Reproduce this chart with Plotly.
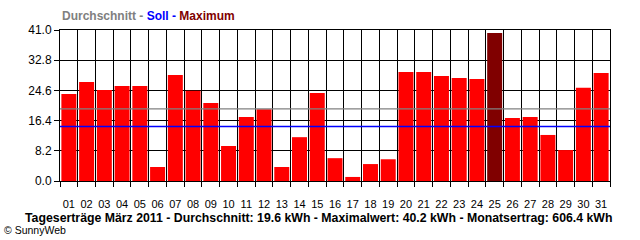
import plotly.graph_objects as go

days = [f"{d:02d}" for d in range(1, 32)]
values = [23.6, 26.9, 24.7, 25.8, 25.8, 3.8, 28.8, 24.5, 21.2, 9.5,
          17.4, 19.5, 3.8, 11.9, 23.9, 6.2, 1.1, 4.6, 5.9, 29.6,
          29.6, 28.5, 28.0, 27.7, 40.2, 17.1, 17.4, 12.5, 8.4, 25.3, 29.3]
average = 19.6
target = 14.8
y_ticks = [0.0, 8.2, 16.4, 24.6, 32.8, 41.0]
y_labels = ["0.0", "8.2", "16.4", "24.6", "32.8", "41.0"]
footer = "Tageserträge März 2011 - Durchschnitt: 19.6 kWh - Maximalwert: 40.2 kWh - Monatsertrag: 606.4 kWh"

vmax = max(values)
colors = ["#800000" if v == vmax else "#ff0000" for v in values]

W, H = 640, 240
L, R, T, B = 60, 30, 30, 59
pw, ph = W - L - R, H - T - B

def px(x):
    return (x - L) / pw

def py(y):
    return (H - B - y) / ph

fig = go.Figure()
fig.add_trace(go.Bar(x=days, y=values, marker=dict(color=colors, line=dict(width=0)),
                     hoverinfo="x+y"))

fig.add_shape(type="line", xref="paper", yref="y", x0=0, x1=1, y0=average, y1=average,
              line=dict(color="#808080", width=1.3), layer="above")
fig.add_shape(type="line", xref="paper", yref="y", x0=0, x1=1, y0=target, y1=target,
              line=dict(color="#0000ff", width=1.3), layer="above")

fig.update_layout(
    width=W, height=H,
    margin=dict(l=L, r=R, t=T, b=B, pad=0),
    paper_bgcolor="white", plot_bgcolor="white",
    bargap=0.155,
    showlegend=False,
    font=dict(family="Liberation Sans, Arial, sans-serif", color="black"),
    xaxis=dict(type="category", tickson="boundaries", ticks="outside", ticklen=5,
               tickangle=0, ticklabelstandoff=13,
               tickcolor="black", tickwidth=1, showgrid=True, gridcolor="black", gridwidth=1,
               showline=True, linecolor="black", linewidth=1, mirror=True,
               tickfont=dict(size=11, color="black"), fixedrange=True),
    yaxis=dict(range=[0, 41], tickvals=y_ticks, ticktext=y_labels, ticks="outside",
               ticklen=5, tickcolor="black", tickwidth=1, showgrid=True, gridcolor="black",
               gridwidth=1, zeroline=False, showline=True, linecolor="black", linewidth=1,
               mirror=True, tickfont=dict(size=12, color="black"), fixedrange=True),
)

fig.add_annotation(
    xref="paper", yref="paper", x=px(60), y=py(16), xanchor="left", yanchor="middle",
    showarrow=False, font=dict(size=12),
    text="<b><span style='color:#808080'>Durchschnitt - </span>"
         "<span style='color:#0000ff'>Soll - </span>"
         "<span style='color:#800000'>Maximum</span></b>")
fig.add_annotation(
    xref="paper", yref="paper", x=px(318), y=py(218), xanchor="center", yanchor="middle",
    showarrow=False, font=dict(size=12.3, color="black"), text=f"<b>{footer}</b>")
fig.add_annotation(
    xref="paper", yref="paper", x=px(2), y=py(230), xanchor="left", yanchor="middle",
    showarrow=False, font=dict(size=10.5, color="black"), text="© SunnyWeb")

fig.write_html("out.html", config={"displayModeBar": False})
